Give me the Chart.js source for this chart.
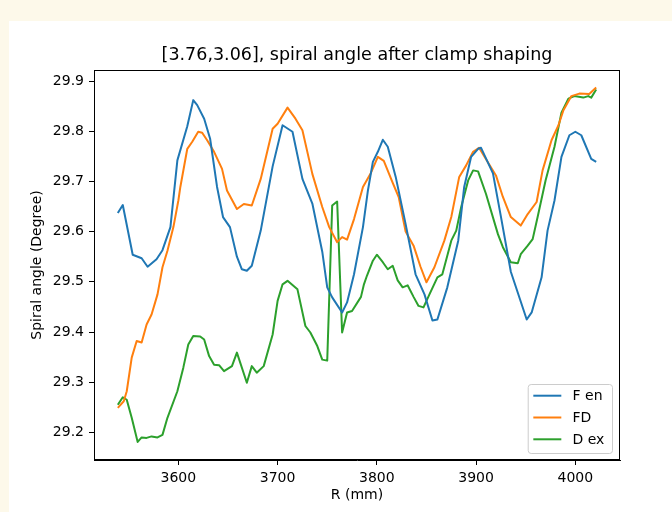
<!DOCTYPE html>
<html>
<head>
<meta charset="utf-8">
<script src="https://cdn.jsdelivr.net/npm/chart.js@4.4.0/dist/chart.umd.min.js"></script>
<style>
  html, body { margin: 0; padding: 0; }
  body { width: 672px; height: 512px; background: #fdf9ea; position: relative; overflow: hidden; }
  #sheet { position: absolute; left: 9px; top: 21px; right: 0; bottom: 0; background: #fff; }
  #wrap { position: absolute; left: 0; top: 0; width: 672px; height: 512px; }
</style>
</head>
<body>
<div id="sheet"></div>
<div id="wrap"><canvas id="spiralChart" width="672" height="512"></canvas></div>
<script>
// Radius (mm) and spiral angle (deg) for each profile
const fenR = [3539,3544,3554,3563,3569,3578,3584,3592,3599,3609,3615,3619,3626,3632,3639,3645,3652,3659,3664,3669,3674,3683,3695,3705,3715,3725,3735,3745,3750,3755,3765,3770,3777,3786,3791,3796,3801,3806,3811,3819,3829,3839,3848,3856,3861,3871,3882,3888,3895,3902,3905,3917,3925,3935,3951,3956,3966,3972,3979,3986,3994,4000,4006,4016,4021];
const fenAngle = [29.637,29.653,29.554,29.547,29.530,29.545,29.563,29.609,29.742,29.810,29.862,29.852,29.825,29.785,29.689,29.629,29.609,29.550,29.525,29.522,29.532,29.602,29.730,29.812,29.799,29.705,29.656,29.560,29.489,29.469,29.439,29.459,29.515,29.609,29.682,29.739,29.759,29.783,29.769,29.709,29.615,29.515,29.475,29.423,29.425,29.489,29.582,29.689,29.749,29.765,29.767,29.716,29.630,29.520,29.425,29.439,29.509,29.602,29.662,29.749,29.792,29.799,29.792,29.745,29.739];

const fdR = [3539,3545,3548,3553,3558,3563,3568,3573,3579,3584,3589,3595,3600,3602,3609,3614,3620,3624,3629,3636,3644,3649,3659,3666,3674,3683,3695,3700,3710,3718,3725,3735,3745,3752,3760,3765,3770,3777,3786,3794,3801,3807,3816,3822,3829,3837,3844,3850,3858,3868,3875,3883,3890,3897,3903,3920,3927,3935,3945,3952,3961,3967,3976,3983,3988,3996,4004,4014,4021];
const fdAngle = [29.249,29.262,29.282,29.349,29.382,29.379,29.415,29.435,29.475,29.529,29.562,29.609,29.662,29.689,29.765,29.779,29.799,29.797,29.782,29.759,29.725,29.682,29.645,29.655,29.652,29.705,29.805,29.815,29.847,29.825,29.802,29.715,29.649,29.609,29.579,29.589,29.584,29.625,29.689,29.717,29.749,29.741,29.697,29.669,29.600,29.572,29.530,29.499,29.529,29.582,29.629,29.709,29.732,29.759,29.767,29.712,29.669,29.629,29.612,29.635,29.659,29.722,29.782,29.812,29.842,29.870,29.875,29.874,29.887];

const dexR = [3539,3544,3548,3553,3559,3563,3568,3573,3579,3584,3589,3599,3605,3610,3615,3622,3626,3631,3636,3641,3646,3654,3659,3669,3674,3679,3686,3695,3700,3705,3710,3720,3728,3733,3740,3745,3750,3755,3760,3765,3770,3775,3784,3787,3790,3796,3800,3806,3811,3816,3821,3826,3831,3837,3842,3847,3853,3861,3866,3875,3880,3885,3892,3897,3902,3910,3922,3927,3935,3942,3945,3952,3957,3962,3970,3979,3986,3993,3999,4008,4013,4016,4021];
const dexAngle = [29.255,29.270,29.265,29.229,29.181,29.190,29.189,29.192,29.190,29.195,29.229,29.282,29.329,29.375,29.392,29.391,29.385,29.352,29.335,29.334,29.322,29.332,29.359,29.299,29.332,29.319,29.332,29.395,29.462,29.495,29.502,29.485,29.412,29.399,29.372,29.345,29.343,29.652,29.660,29.399,29.439,29.442,29.470,29.495,29.512,29.542,29.554,29.539,29.525,29.532,29.503,29.489,29.493,29.470,29.452,29.449,29.475,29.509,29.515,29.582,29.602,29.649,29.702,29.722,29.720,29.675,29.595,29.569,29.539,29.537,29.555,29.572,29.585,29.629,29.702,29.769,29.837,29.865,29.870,29.867,29.870,29.867,29.883];

const seriesNames = ['F en', 'FD', 'D ex'];
const seriesColors = ['#1f77b4', '#ff7f0e', '#2ca02c'];
const xTicks = [3600, 3700, 3800, 3900, 4000];
const yTicks = [29.2, 29.3, 29.4, 29.5, 29.6, 29.7, 29.8, 29.9];
const chartTitle = '[3.76,3.06], spiral angle after clamp shaping';

const FONT = '"DejaVu Sans", "Liberation Sans", sans-serif';

function toPoints(rs, angles) {
    return rs.map((r, i) => ({ x: r, y: angles[i] }));
}

// Box round the plot area (top and right edges too) and the title over it
const axesFrame = {
    id: 'axesFrame',
    afterDatasetsDraw(chart) {
        const { ctx, chartArea: a } = chart;
        ctx.save();
        ctx.strokeStyle = '#000';
        ctx.lineWidth = 1;
        ctx.strokeRect(Math.round(a.left) + 0.5, Math.round(a.top) + 0.5,
            Math.round(a.right - a.left) - 1, Math.round(a.bottom - a.top) - 1);

        ctx.font = '17.5px ' + FONT;
        ctx.fillStyle = '#000';
        ctx.textAlign = 'center';
        ctx.textBaseline = 'middle';
        ctx.fillText(chartTitle, (a.left + a.right) / 2, a.top - 15);
        ctx.restore();
    }
};

// Legend in the lower right corner of the plot area
const cornerLegend = {
    id: 'cornerLegend',
    afterDatasetsDraw(chart) {
        const { ctx, chartArea: a } = chart;
        const fs = 14;
        const pad = 0.4 * fs, handle = 2 * fs, gap = 0.8 * fs, rowH = 21.8;
        ctx.save();
        ctx.font = fs + 'px ' + FONT;
        const sets = chart.data.datasets;
        const textW = Math.max(...sets.map(d => ctx.measureText(d.label).width));
        const w = pad + handle + gap + textW + pad + 2;
        const h = 69;
        const right = a.right - 8, bottom = a.bottom - 7;
        const left = right - w, top = bottom - h;

        ctx.beginPath();
        ctx.roundRect(left + 0.5, top + 0.5, w, h, 3);
        ctx.fillStyle = 'rgba(255,255,255,0.8)';
        ctx.fill();
        ctx.strokeStyle = '#cccccc';
        ctx.lineWidth = 1;
        ctx.stroke();

        sets.forEach((d, i) => {
            const y = top + 11.7 + i * rowH;
            ctx.beginPath();
            ctx.moveTo(left + pad, y);
            ctx.lineTo(left + pad + handle, y);
            ctx.strokeStyle = d.borderColor;
            ctx.lineWidth = 2;
            ctx.stroke();
            ctx.fillStyle = '#000';
            ctx.textBaseline = 'middle';
            ctx.textAlign = 'left';
            ctx.fillText(d.label, left + pad + handle + gap, y + 1);
        });
        ctx.restore();
    }
};

const lineStyle = (i, pts) => ({
    label: seriesNames[i],
    data: pts,
    borderColor: seriesColors[i],
    backgroundColor: seriesColors[i],
    borderWidth: 2,
    pointRadius: 0,
    showLine: true,
    tension: 0,
    borderJoinStyle: 'round',
    fill: false
});

const ctx = document.getElementById('spiralChart');
window.spiralChart = new Chart(ctx, {
    type: 'scatter',
    data: {
        datasets: [
            lineStyle(0, toPoints(fenR, fenAngle)),
            lineStyle(1, toPoints(fdR, fdAngle)),
            lineStyle(2, toPoints(dexR, dexAngle))
        ]
    },
    options: {
        responsive: false,
        animation: false,
        devicePixelRatio: 1,
        layout: { padding: { left: 0, right: 52, top: 70, bottom: 0 } },
        plugins: {
            legend: { display: false },
            tooltip: { enabled: false },
            title: { display: false }
        },
        scales: {
            x: {
                type: 'linear',
                min: 3515,
                max: 4045,
                afterBuildTicks: s => { s.ticks = xTicks.map(v => ({ value: v })); },
                afterFit: s => { s.height = 52; },
                grid: { drawOnChartArea: false, drawTicks: true, tickLength: 5, color: '#000' },
                border: { display: true, color: '#000', width: 1 },
                ticks: {
                    color: '#000',
                    padding: 5,
                    maxRotation: 0,
                    font: { family: FONT, size: 14 },
                    callback: v => String(v)
                },
                title: {
                    display: true,
                    text: 'R (mm)',
                    color: '#000',
                    font: { family: FONT, size: 14, lineHeight: 1.2 },
                    padding: { top: 0, bottom: 8.6 }
                }
            },
            y: {
                type: 'linear',
                min: 29.145,
                max: 29.922,
                afterBuildTicks: s => { s.ticks = yTicks.map(v => ({ value: v })); },
                afterFit: s => { s.width = 94; },
                grid: { drawOnChartArea: false, drawTicks: true, tickLength: 5, color: '#000' },
                border: { display: true, color: '#000', width: 1 },
                ticks: {
                    color: '#000',
                    padding: 5,
                    font: { family: FONT, size: 14 },
                    callback: v => Number(v).toFixed(1)
                },
                title: {
                    display: true,
                    text: 'Spiral angle (Degree)',
                    color: '#000',
                    font: { family: FONT, size: 14, lineHeight: 1.2 },
                    padding: { top: 28.6, bottom: 0 }
                }
            }
        }
    },
    plugins: [axesFrame, cornerLegend]
});
</script>
</body>
</html>
